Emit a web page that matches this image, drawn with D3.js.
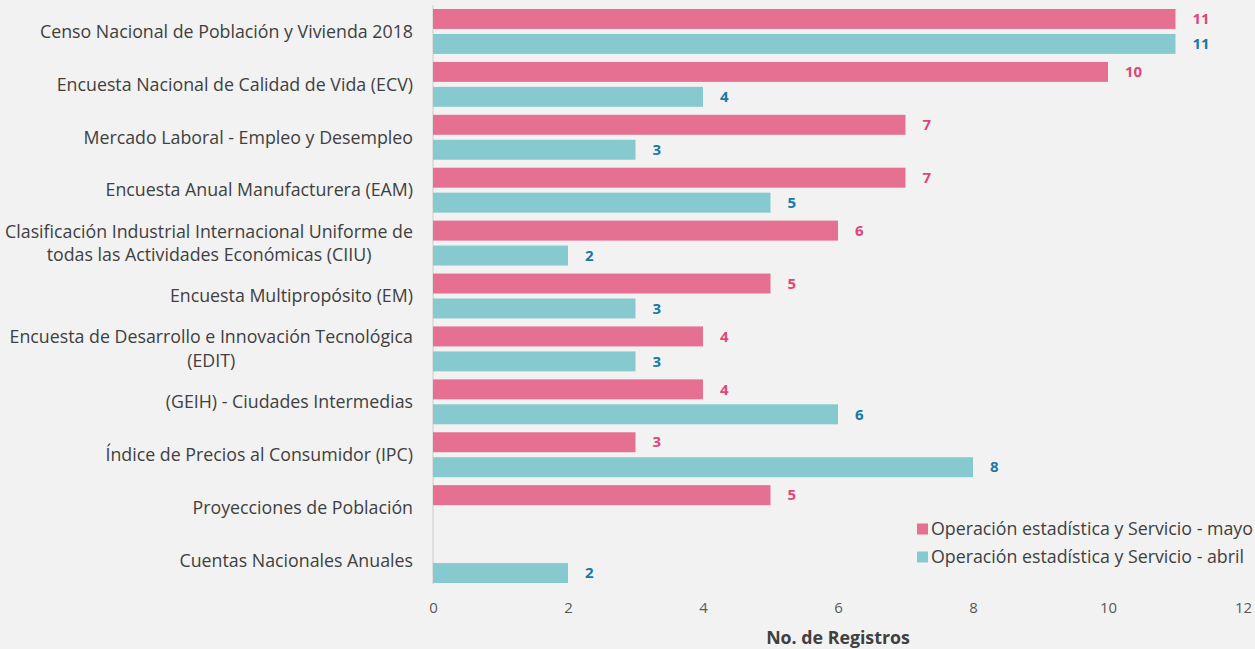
<!DOCTYPE html>
<html><head><meta charset="utf-8">
<script src="https://cdn.jsdelivr.net/npm/d3@7"></script>
<style>
html,body{margin:0;padding:0;background:#f2f2f2;}
svg{display:block;font-family:"Open Sans","Noto Sans",sans-serif;}
</style></head>
<body>
<svg id="chart" width="1255" height="649"></svg>
<script>
const categories = [
  ["Censo Nacional de Población y Vivienda 2018"],
  ["Encuesta Nacional de Calidad de Vida (ECV)"],
  ["Mercado Laboral - Empleo y Desempleo"],
  ["Encuesta Anual Manufacturera (EAM)"],
  ["Clasificación Industrial Internacional Uniforme de","todas las Actividades Económicas (CIIU)"],
  ["Encuesta Multipropósito (EM)"],
  ["Encuesta de Desarrollo e Innovación Tecnológica","(EDIT)"],
  ["(GEIH) - Ciudades Intermedias"],
  ["Índice de Precios al Consumidor (IPC)"],
  ["Proyecciones de Población"],
  ["Cuentas Nacionales Anuales"]
];
const mayo  = [11,10,7,7,6,5,4,4,3,5,null];
const abril = [11,4,3,5,2,3,3,6,8,null,2];
const seriesNames = ["Operación estadística y Servicio - mayo","Operación estadística y Servicio - abril"];
const xTicks = [0,2,4,6,8,10,12];
const xTitle = "No. de Registros";

const colors = {mayo:"#e57092", abril:"#86cad0", mayoLbl:"#e0457b", abrilLbl:"#1679a8"};

(function(){
const svg = d3.select("#chart");
const pL = 433, pR = 1243, pT = 5, pB = 587;
const fs = 17.8;
const x = d3.scaleLinear().domain([0,12]).range([pL,pR]);
const y = d3.scaleBand().domain(d3.range(categories.length)).range([pT,pB]).padding(0);
const sub = d3.scaleBand().domain(["mayo","abril"]).range([0,y.bandwidth()]).paddingInner(0.2).paddingOuter(0.16);

svg.append("line").attr("x1",pL).attr("x2",pL).attr("y1",pT).attr("y2",584)
  .attr("stroke","#d9d9d9").attr("stroke-width",1.5);

const series = [{key:"mayo",vals:mayo},{key:"abril",vals:abril}];
series.forEach(s=>{
  const g = svg.append("g");
  s.vals.forEach((v,i)=>{
    if(v==null) return;
    g.append("rect").attr("x",x(0)).attr("y",y(i)+sub(s.key))
      .attr("width",x(v)-x(0)).attr("height",sub.bandwidth())
      .attr("fill",colors[s.key]);
    g.append("text").attr("x",x(v)+17).attr("y",y(i)+sub(s.key)+sub.bandwidth()/2)
      .attr("dy","0.35em").attr("font-size",15).attr("font-weight",700)
      .attr("fill",colors[s.key+"Lbl"]).text(v);
  });
});

categories.forEach((lines,i)=>{
  const cy = y(i)+y.bandwidth()/2;
  const g = svg.append("g");
  const lh = 23.5;
  const ts = lines.map((l,j)=>g.append("text").attr("font-size",fs).attr("fill","#404040")
    .attr("y",cy+(j-(lines.length-1)/2)*lh).attr("dy","0.35em").text(l));
  const widths = ts.map(t=>t.node().getComputedTextLength());
  const maxW = d3.max(widths);
  const cx = 413 - maxW/2;
  ts.forEach(t=>t.attr("x",cx).attr("text-anchor","middle"));
});

const axis = svg.append("g").attr("transform",`translate(0,${pB})`)
  .call(d3.axisBottom(x).tickValues(xTicks).tickSize(0).tickPadding(15));
axis.select(".domain").remove();
axis.selectAll("text").attr("font-size",15).attr("fill","#595959").attr("font-family","'Open Sans','Noto Sans',sans-serif");

svg.append("text").attr("x",(pL+pR)/2).attr("y",638).attr("dy","0.35em")
  .attr("text-anchor","middle").attr("font-size",fs).attr("font-weight",700).attr("fill","#404040").text(xTitle);

const lg = svg.append("g");
seriesNames.forEach((n,i)=>{
  const ly = 529 + i*28;
  lg.append("rect").attr("x",917).attr("y",ly-5.5).attr("width",11).attr("height",11)
    .attr("fill",i===0?colors.mayo:colors.abril);
  lg.append("text").attr("x",931).attr("y",ly).attr("dy","0.35em").attr("font-size",fs)
    .attr("fill","#404040").text(n);
});
})();
</script>
</body></html>
